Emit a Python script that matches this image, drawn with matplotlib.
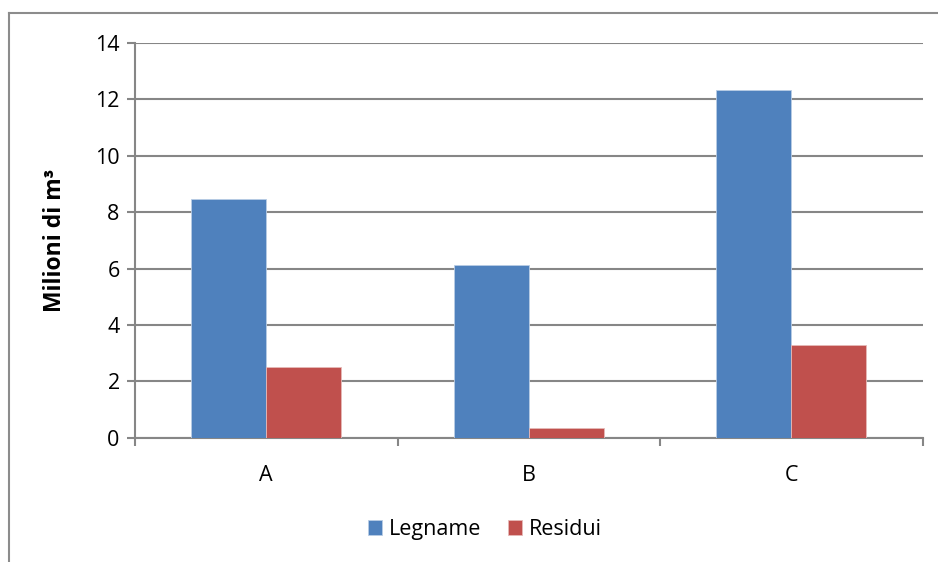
import matplotlib
matplotlib.use("Agg")
import matplotlib.pyplot as plt
import numpy as np
from matplotlib.lines import Line2D

categories = ["A", "B", "C"]
legname = [8.48, 6.12, 12.33]
residui = [2.5, 0.34, 3.3]

plt.rcParams['font.family'] = ['Open Sans', 'DejaVu Sans']

fig = plt.figure(figsize=(9.38, 5.62), dpi=100)
ax = fig.add_axes([0.1439, 0.2212, 0.8398, 0.7023])

grey = "#868686"
w = 1 / 3.5
x = np.arange(len(categories))
ax.bar(x - w / 2, legname, w, color="#4F81BD", edgecolor="#B9CDE5", linewidth=0.6, label="Legname", zorder=3)
ax.bar(x + w / 2, residui, w, color="#C0504D", edgecolor="#E6B9B8", linewidth=0.6, label="Residui", zorder=3)

ax.set_xlim(-0.5, 2.5)
ax.set_ylim(0, 14)
ax.set_yticks(range(0, 15, 2))
ax.yaxis.grid(True, color=grey, linewidth=1.5, zorder=0)
ax.set_xticks(x)
ax.set_xticklabels(categories)
ax.set_xticks([-0.5, 0.5, 1.5, 2.5], minor=True)
ax.tick_params(axis="x", which="major", length=0, pad=20, labelsize=15.5)
ax.tick_params(axis="x", which="minor", length=6, width=1.5, color=grey)
ax.tick_params(axis="y", length=6, width=1.5, color=grey, labelsize=15.5, pad=5)

for side in ["top", "right"]:
    ax.spines[side].set_visible(False)
for side in ["left", "bottom"]:
    ax.spines[side].set_color(grey)
    ax.spines[side].set_linewidth(1.5)

ax.set_ylabel("Milioni di m³", fontsize=16.5, fontweight="bold", labelpad=20)

fig.legend(loc="center", bbox_to_anchor=(0.517, 0.058), ncol=2, frameon=False,
           fontsize=15.5, handlelength=0.65, handleheight=0.65, handletextpad=0.35,
           columnspacing=1.2)

# chart area border (top and left edges only)
fig.add_artist(Line2D([9 / 938, 1.0], [1 - 13 / 562, 1 - 13 / 562], color="#8c8c8c", linewidth=1.5, transform=fig.transFigure))
fig.add_artist(Line2D([9 / 938, 9 / 938], [0.0, 1 - 13 / 562], color="#8c8c8c", linewidth=1.5, transform=fig.transFigure))

fig.savefig("out.png", dpi=100)
